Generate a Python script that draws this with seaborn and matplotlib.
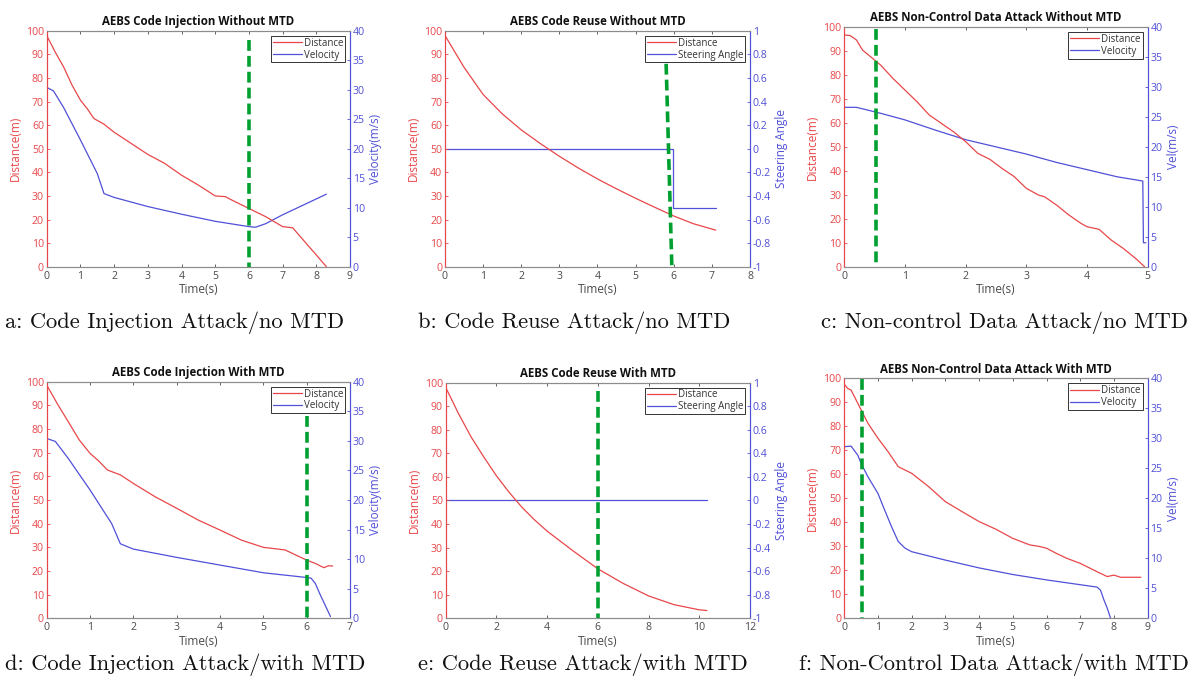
import numpy as np
import seaborn as sns
import matplotlib.pyplot as plt
from matplotlib.ticker import FuncFormatter, MultipleLocator
from matplotlib.lines import Line2D

# ---- panel a: code injection, no MTD ----
a_t_dist = [0, 0.25, 0.5, 0.75, 1, 1.2, 1.4, 1.7, 2, 2.5, 3, 3.5, 4, 4.5, 5, 5.3, 5.5, 6, 6.5, 7, 7.3, 7.7, 8, 8.3]
a_dist = [98, 91, 84.7, 77, 70.6, 67, 62.8, 60.4, 57, 52.3, 47.6, 43.8, 38.8, 34.6, 30, 29.7, 28.2, 24.7, 21.2, 17, 16.5, 9.9, 5, 0]
a_t_vel = [0, 0.2, 0.5, 1, 1.5, 1.7, 2, 3, 4, 5, 6, 6.2, 6.5, 7, 8.3]
a_vel = [30.4, 29.8, 27, 21.5, 15.8, 12.4, 11.75, 10.2, 8.9, 7.7, 6.8, 6.7, 7.3, 8.8, 12.3]
a_mark_t = [6, 6]
a_mark_y = [96, 0]

# ---- panel b: code reuse, no MTD ----
b_t_dist = [0, 0.5, 1, 1.5, 2, 2.5, 3, 3.5, 4, 4.5, 5, 5.5, 6, 6.5, 7.1]
b_dist = [98, 84.5, 73, 64.8, 58, 52.2, 46.8, 41.8, 37.2, 33, 29, 25.2, 21.5, 18.3, 15.5]
b_t_steer = [0, 5.97, 5.97, 7.1]
b_steer = [0, 0, -0.5, -0.5]
b_mark_t = [5.8, 5.95]
b_mark_y = [86, 0]

# ---- panel c: non-control data, no MTD ----
c_t_dist = [0, 0.1, 0.2, 0.3, 0.5, 0.6, 0.8, 1, 1.2, 1.4, 1.6, 1.8, 2, 2.2, 2.4, 2.6, 2.8, 3,
            3.2, 3.3, 3.5, 3.7, 3.9, 4, 4.2, 4.4, 4.6, 4.8, 4.95]
c_dist = [96.7, 96.4, 94.6, 90.4, 86.2, 84.1, 78.6, 73.7, 68.8, 63.3, 59.8, 56.3, 52.2, 47.3,
          44.8, 41, 37.6, 32.7, 29.9, 29.2, 25.7, 21.6, 18.1, 16.7, 15.6, 11.1, 7.6, 3.5, 0]
c_t_vel = [0, 0.2, 0.4, 0.6, 1, 1.5, 2, 2.5, 3, 3.5, 4, 4.5, 4.92, 4.93, 4.97]
c_vel = [26.6, 26.6, 26.1, 25.6, 24.5, 22.8, 21.2, 20, 18.8, 17.4, 16.2, 15, 14.3, 4.0, 4.0]
c_mark_t = [0.53, 0.53]
c_mark_y = [99, 0]

# ---- panel d: code injection, with MTD ----
d_t_dist = [0, 0.25, 0.5, 0.75, 1, 1.2, 1.4, 1.7, 2, 2.5, 3, 3.5, 4, 4.5, 5, 5.5, 6, 6.2, 6.4, 6.5, 6.6]
d_dist = [98.6, 90.5, 83, 75.4, 69.7, 66.5, 62.7, 60.6, 57, 51.4, 46.5, 41.5, 37.3, 33, 30, 28.9, 24.6, 23.2, 21.4, 22.2, 22.1]
d_t_vel = [0, 0.2, 0.5, 1, 1.5, 1.7, 2, 3, 4, 5, 6, 6.1, 6.2, 6.3, 6.55]
d_vel = [30.4, 29.9, 27, 21.7, 16, 12.6, 11.7, 10.3, 9, 7.7, 6.9, 6.8, 5.9, 4.2, 0.3]
d_mark_t = [6, 6]
d_mark_y = [85.5, 0]

# ---- panel e: code reuse, with MTD ----
e_t_dist = [0, 0.5, 1, 1.5, 2, 2.5, 3, 3.5, 4, 5, 6, 7, 8, 9, 10, 10.3]
e_dist = [98, 87, 77, 68.5, 60.5, 53.5, 47.2, 41.8, 37, 28.8, 21, 14.8, 9.5, 5.8, 3.6, 3.3]
e_t_steer = [0, 10.3]
e_steer = [0, 0]
e_mark_t = [6, 6]
e_mark_y = [96.6, 0]

# ---- panel f: non-control data, with MTD ----
f_t_dist = [0, 0.1, 0.2, 0.3, 0.5, 0.7, 1, 1.3, 1.6, 2, 2.5, 3, 3.5, 4, 4.5, 5, 5.5, 5.8, 6,
            6.3, 6.6, 7, 7.5, 7.8, 8, 8.2, 8.5, 8.8]
f_dist = [97.5, 95.8, 95.1, 92.4, 86.8, 81.3, 75, 69.4, 63.2, 60.4, 54.9, 48.6, 44.4, 40.3,
          37.1, 33.3, 30.6, 29.9, 29.2, 27, 25, 22.9, 19.4, 17.4, 18, 17.1, 17.1, 17.1]
f_t_vel = [0, 0.2, 0.4, 0.5, 0.7, 1, 1.2, 1.4, 1.6, 1.8, 2, 3, 4, 5, 6, 7, 7.5, 7.6, 7.7, 7.8, 7.9]
f_vel = [28.6, 28.7, 27.2, 25.8, 23.6, 20.8, 18, 15.3, 12.8, 11.7, 11.1, 9.7, 8.4, 7.3, 6.4,
         5.6, 5.2, 4.7, 3.1, 1.7, 0]
f_mark_t = [0.53, 0.53]
f_mark_y = [99.6, 0]

titles = ["AEBS Code Injection Without MTD", "AEBS Code Reuse Without MTD",
          "AEBS Non-Control Data Attack Without MTD", "AEBS Code Injection With MTD",
          "AEBS Code Reuse With MTD", "AEBS Non-Control Data Attack With MTD"]
captions = ["a: Code Injection Attack/no MTD", "b: Code Reuse Attack/no MTD",
            "c: Non-control Data Attack/no MTD", "d: Code Injection Attack/with MTD",
            "e: Code Reuse Attack/with MTD", "f: Non-Control Data Attack/with MTD"]

RED = "#e8474a"
BLUE = "#5050d8"
GREEN = "#00a030"
GRAY = "#4a4a4a"

sns.set_style("ticks")
plt.rcParams["font.family"] = ["Open Sans", "DejaVu Sans"]
plt.rcParams["axes.unicode_minus"] = False
plt.rcParams["xtick.direction"] = "in"
plt.rcParams["ytick.direction"] = "in"

fig = plt.figure(figsize=(11.92, 6.91), dpi=100)

boxes = [
    [0.0392, 0.614, 0.2544, 0.3415],
    [0.3733, 0.614, 0.2559, 0.3415],
    [0.7083, 0.614, 0.2545, 0.3469],
    [0.0392, 0.1052, 0.2544, 0.3424],
    [0.3739, 0.1052, 0.2553, 0.3410],
    [0.7083, 0.1052, 0.2545, 0.3473],
]

panels = [
    (a_t_dist, a_dist, a_t_vel, a_vel, a_mark_t, a_mark_y, "Velocity", "Velocity(m/s)", 9, (0, 40)),
    (b_t_dist, b_dist, b_t_steer, b_steer, b_mark_t, b_mark_y, "Steering Angle", "Steering Angle", 8, (-1, 1)),
    (c_t_dist, c_dist, c_t_vel, c_vel, c_mark_t, c_mark_y, "Velocity", "Vel(m/s)", 5, (0, 40)),
    (d_t_dist, d_dist, d_t_vel, d_vel, d_mark_t, d_mark_y, "Velocity", "Velocity(m/s)", 7, (0, 40)),
    (e_t_dist, e_dist, e_t_steer, e_steer, e_mark_t, e_mark_y, "Steering Angle", "Steering Angle", 12, (-1, 1)),
    (f_t_dist, f_dist, f_t_vel, f_vel, f_mark_t, f_mark_y, "Velocity", "Vel(m/s)", 9, (0, 40)),
]

fmt = FuncFormatter(lambda v, p: "%g" % round(v, 6))

for i, (box, pan) in enumerate(zip(boxes, panels)):
    td, dist, tv, vel, mt, my, lab2, ylab2, xmax, ylim2 = pan
    ax = fig.add_axes(box)
    ax2 = ax.twinx()
    ax.set_zorder(ax2.get_zorder() + 1)
    ax.patch.set_visible(False)

    sns.lineplot(x=tv, y=vel, ax=ax2, color=BLUE, linewidth=0.9,
                 estimator=None, sort=False)
    sns.lineplot(x=td, y=dist, ax=ax, color=RED, linewidth=0.9,
                 estimator=None, sort=False)
    sns.lineplot(x=mt, y=my, ax=ax, color=GREEN, linewidth=2.6,
                 estimator=None, sort=False)
    ax.get_lines()[-1].set_dashes((3, 1.4))

    ax.set_xlim(0, xmax)
    ax.set_ylim(0, 100)
    ax2.set_ylim(*ylim2)
    ax.yaxis.set_major_locator(MultipleLocator(10))
    ax.xaxis.set_major_locator(MultipleLocator(2 if xmax == 12 else 1))
    ax2.yaxis.set_major_locator(MultipleLocator(0.2 if ylim2[1] == 1 else 5))
    ax.xaxis.set_major_formatter(fmt)
    ax.yaxis.set_major_formatter(fmt)
    ax2.yaxis.set_major_formatter(fmt)

    ax.tick_params(axis="x", colors=GRAY, labelsize=7.6, length=2.5, width=0.6, top=True, pad=3)
    ax.tick_params(axis="y", colors=RED, labelsize=7.6, length=2.5, width=0.6, pad=2)
    ax2.tick_params(axis="y", colors=BLUE, labelsize=7.6, length=2.5, width=0.6, pad=2)
    ax2.tick_params(axis="x", top=False, bottom=False)

    for a_ in (ax, ax2):
        for s in a_.spines.values():
            s.set_linewidth(0.8)
        a_.spines["top"].set_color("#8c8c8c")
        a_.spines["bottom"].set_color("#8c8c8c")
        a_.spines["left"].set_color(RED)
        a_.spines["right"].set_color(BLUE)

    ax.set_xlabel("Time(s)", fontsize=8.5, color=GRAY, labelpad=1)
    ax.set_ylabel("Distance(m)", fontsize=8.5, color=RED, labelpad=3)
    ax2.set_ylabel(ylab2, fontsize=8.5, color=BLUE, labelpad=3)
    ax.set_title(titles[i], fontsize=8.3, fontweight="bold", color="#111111", pad=4)

    handles = [Line2D([], [], color=RED, lw=0.9), Line2D([], [], color=BLUE, lw=0.9)]
    leg = ax.legend(handles, ["Distance", lab2], loc="upper right", fontsize=7,
                    frameon=True, fancybox=False, framealpha=1, edgecolor="#333333",
                    borderpad=0.2, handlelength=3.0, handletextpad=0.2,
                    labelspacing=0.1, borderaxespad=0.5)
    leg.get_frame().set_linewidth(0.7)
    for t in leg.get_texts():
        t.set_color("#333333")

# caption anchors (pixels) and alignment
cap_x = [5, 418, 1188, 5, 418, 1189]
cap_y = [323, 323, 323, 665, 665, 665]
cap_ha = ["left", "left", "right", "left", "left", "right"]
for txt, x, y, ha in zip(captions, cap_x, cap_y, cap_ha):
    fig.text(x / 1192, 1 - y / 691, txt, fontsize=16.2, family=["cmr10", "DejaVu Serif"],
             ha=ha, va="center", color="#111111")

plt.savefig("out.png", dpi=100)
